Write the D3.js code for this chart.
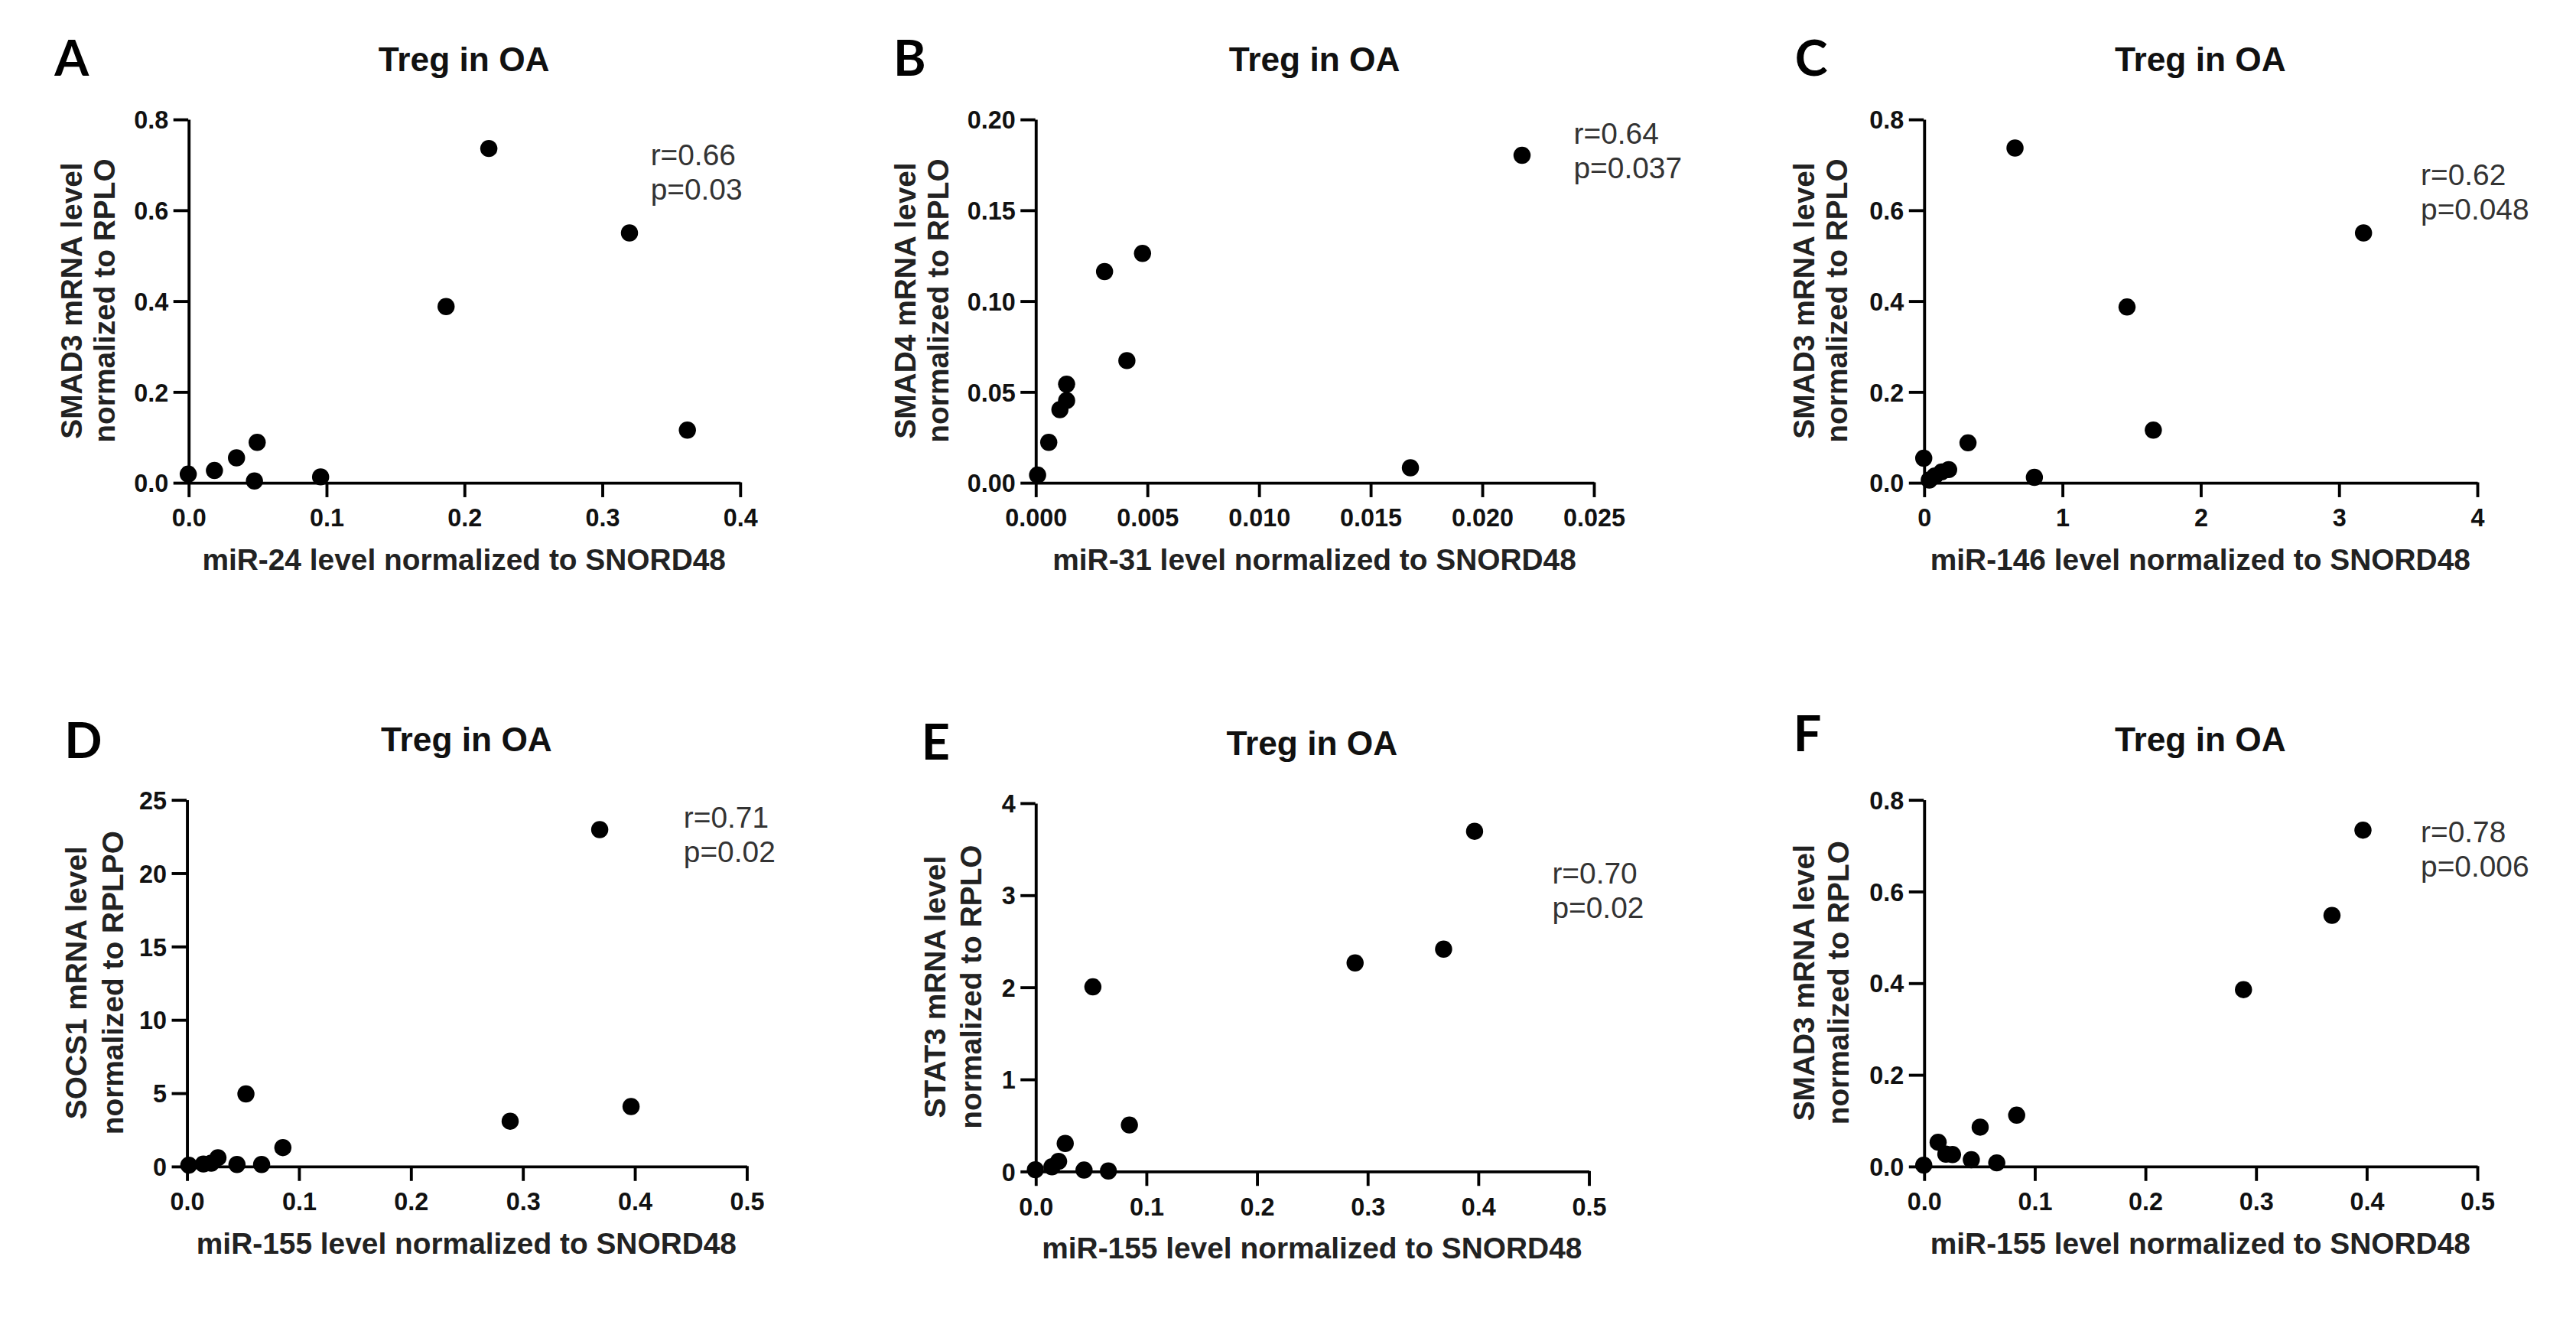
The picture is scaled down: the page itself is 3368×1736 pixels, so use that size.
<!DOCTYPE html>
<html>
<head>
<meta charset="utf-8">
<script src="https://cdn.jsdelivr.net/npm/d3@7/dist/d3.min.js"></script>
<style>
	html, body { margin: 0; padding: 0; background: #ffffff; }
	svg { display: block; }
</style>
</head>
<body>
<div id="chart"></div>
<script>

///////////////////////////////////////////////////////////////////////////
///////////////////////////////// Data ////////////////////////////////////
///////////////////////////////////////////////////////////////////////////

var panelLetters = ["A", "B", "C", "D", "E", "F"];
var panelTitle = "Treg in OA";

var xTitles = [
	"miR-24 level normalized to SNORD48",
	"miR-31 level normalized to SNORD48",
	"miR-146 level normalized to SNORD48",
	"miR-155 level normalized to SNORD48",
	"miR-155 level normalized to SNORD48",
	"miR-155 level normalized to SNORD48"
];
var yTitlesTop = ["SMAD3 mRNA level", "SMAD4 mRNA level", "SMAD3 mRNA level", "SOCS1 mRNA level", "STAT3 mRNA level", "SMAD3 mRNA level"];
var yTitlesBottom = ["normalized to RPLO", "normalized to RPLO", "normalized to RPLO", "normalized to RPLPO", "normalized to RPLO", "normalized to RPLO"];

var rLabels = ["r=0.66", "r=0.64", "r=0.62", "r=0.71", "r=0.70", "r=0.78"];
var pLabels = ["p=0.03", "p=0.037", "p=0.048", "p=0.02", "p=0.02", "p=0.006"];

//Axis ranges and tick labels
var xMax = [0.4, 0.025, 4, 0.5, 0.5, 0.5];
var yMax = [0.8, 0.20, 0.8, 25, 4, 0.8];
var xTicks = [
	[0, 0.1, 0.2, 0.3, 0.4],
	[0, 0.005, 0.010, 0.015, 0.020, 0.025],
	[0, 1, 2, 3, 4],
	[0, 0.1, 0.2, 0.3, 0.4, 0.5],
	[0, 0.1, 0.2, 0.3, 0.4, 0.5],
	[0, 0.1, 0.2, 0.3, 0.4, 0.5]
];
var yTicks = [
	[0, 0.2, 0.4, 0.6, 0.8],
	[0, 0.05, 0.10, 0.15, 0.20],
	[0, 0.2, 0.4, 0.6, 0.8],
	[0, 5, 10, 15, 20, 25],
	[0, 1, 2, 3, 4],
	[0, 0.2, 0.4, 0.6, 0.8]
];
var xFormats = [".1f", ".3f", "d", ".1f", ".1f", ".1f"];
var yFormats = [".1f", ".2f", ".1f", "d", "d", ".1f"];

//Points per panel
var xA = [0.000, 0.019, 0.035, 0.050, 0.048, 0.096, 0.187, 0.218, 0.320, 0.362];
var yA = [0.018, 0.026, 0.054, 0.088, 0.003, 0.012, 0.387, 0.735, 0.549, 0.115];

var xB = [0.0001, 0.0006, 0.0011, 0.0014, 0.0014, 0.0031, 0.0048, 0.0041, 0.0168, 0.0218];
var yB = [0.004, 0.022, 0.040, 0.054, 0.045, 0.116, 0.126, 0.067, 0.008, 0.180];

var xC = [0.00, 0.04, 0.08, 0.13, 0.18, 0.32, 0.66, 0.80, 1.47, 1.66, 3.18];
var yC = [0.053, 0.005, 0.014, 0.023, 0.028, 0.087, 0.736, 0.011, 0.386, 0.115, 0.549];

var xD = [0.002, 0.015, 0.022, 0.028, 0.045, 0.053, 0.067, 0.086, 0.289, 0.369, 0.397];
var yD = [0.06, 0.14, 0.20, 0.57, 0.11, 4.92, 0.11, 1.26, 3.06, 22.94, 4.06];

var xE = [0.000, 0.015, 0.021, 0.027, 0.044, 0.052, 0.066, 0.085, 0.289, 0.369, 0.397];
var yE = [0.014, 0.046, 0.105, 0.30, 0.01, 2.00, 0.00, 0.50, 2.26, 2.41, 3.69];

var xF = [0.000, 0.013, 0.020, 0.026, 0.043, 0.051, 0.066, 0.084, 0.289, 0.369, 0.397];
var yF = [0.002, 0.052, 0.026, 0.025, 0.014, 0.085, 0.007, 0.111, 0.385, 0.547, 0.733];

var xValues = [xA, xB, xC, xD, xE, xF];
var yValues = [yA, yB, yC, yD, yE, yF];

///////////////////////////////////////////////////////////////////////////
//////////////////////////////// Layout ///////////////////////////////////
///////////////////////////////////////////////////////////////////////////

//Everything is laid out on a 1560 x 804 grid and scaled up to the window
var viewW = 1560,
	viewH = 804;

//Plot area of each panel: left, right, bottom, top
var layout = [
	{ x0: 114,  x1: 448,  y0: 292, y1: 72,  letter: [33, 46],    note: [394, 100],  yt: [-71, -51] },
	{ x0: 627,  x1: 965,  y0: 292, y1: 72,  letter: [541, 46],   note: [953, 87],   yt: [-79, -59] },
	{ x0: 1165, x1: 1500, y0: 292, y1: 72,  letter: [1087, 46],  note: [1466, 112], yt: [-73, -53] },
	{ x0: 113,  x1: 452,  y0: 706, y1: 484, letter: [39, 459],   note: [414, 501],  yt: [-67, -45] },
	{ x0: 627,  x1: 962,  y0: 709, y1: 486, letter: [558, 460],  note: [940, 535],  yt: [-61, -39] },
	{ x0: 1165, x1: 1500, y0: 706, y1: 484, letter: [1086, 455], note: [1466, 510], yt: [-73, -52] }
];

var fontFamily = "'Liberation Sans', Arial, sans-serif";

var svg = d3.select("#chart")
	.append("svg")
	.attr("width", 3368)
	.attr("height", 1736)
	.attr("viewBox", "0 0 " + viewW + " " + viewH);

svg.append("rect")
	.attr("width", viewW)
	.attr("height", viewH)
	.style("fill", "#ffffff");

///////////////////////////////////////////////////////////////////////////
///////////////////////////// Draw the panels /////////////////////////////
///////////////////////////////////////////////////////////////////////////

panelLetters.forEach(function(letter, i) {
	var L = layout[i];

	var x = d3.scaleLinear().domain([0, xMax[i]]).range([L.x0, L.x1]);
	var y = d3.scaleLinear().domain([0, yMax[i]]).range([L.y0, L.y1]);

	var g = svg.append("g").attr("class", "panel panel-" + letter);

	//Panel letter
	g.append("text")
		.attr("x", L.letter[0])
		.attr("y", L.letter[1])
		.style("font-family", "Lato, 'Open Sans', sans-serif")
		.style("font-weight", 700)
		.style("font-size", "30px")
		.style("fill", "#000")
		.text(letter);

	//Title
	g.append("text")
		.attr("x", (L.x0 + L.x1) / 2)
		.attr("y", L.y1 - 29)
		.attr("text-anchor", "middle")
		.style("font-family", fontFamily)
		.style("font-weight", 700)
		.style("font-size", "20.5px")
		.style("fill", "#111")
		.text(panelTitle);

	//X axis
	var xAxis = g.append("g")
		.attr("transform", "translate(0," + L.y0 + ")")
		.call(d3.axisBottom(x)
			.tickValues(xTicks[i])
			.tickFormat(d3.format(xFormats[i]))
			.tickSize(9)
			.tickPadding(4)
			.tickSizeOuter(0));

	//Y axis
	var yAxis = g.append("g")
		.attr("transform", "translate(" + L.x0 + ",0)")
		.call(d3.axisLeft(y)
			.tickValues(yTicks[i])
			.tickFormat(d3.format(yFormats[i]))
			.tickSize(9)
			.tickPadding(3)
			.tickSizeOuter(0));

	[xAxis, yAxis].forEach(function(ax) {
		ax.select(".domain").style("stroke", "#000").style("stroke-width", 1.8);
		ax.selectAll(".tick line").style("stroke", "#000").style("stroke-width", 1.8);
		ax.selectAll(".tick text")
			.style("font-family", fontFamily)
			.style("font-weight", 700)
			.style("font-size", "15px")
			.style("fill", "#111");
	});
	xAxis.selectAll(".tick text").attr("dy", "0.92em");
	yAxis.selectAll(".tick text").attr("dy", "0.36em");

	//X axis title
	g.append("text")
		.attr("x", (L.x0 + L.x1) / 2)
		.attr("y", L.y0 + 53)
		.attr("text-anchor", "middle")
		.style("font-family", fontFamily)
		.style("font-weight", 700)
		.style("font-size", "18px")
		.style("fill", "#222")
		.text(xTitles[i]);

	//Y axis title, two lines
	var yMid = (L.y0 + L.y1) / 2;
	[yTitlesTop[i], yTitlesBottom[i]].forEach(function(t, j) {
		g.append("text")
			.attr("transform", "translate(" + (L.x0 + L.yt[j]) + "," + yMid + ") rotate(-90)")
			.attr("text-anchor", "middle")
			.attr("dy", "0.36em")
			.style("font-family", fontFamily)
			.style("font-weight", 700)
			.style("font-size", "18px")
			.style("fill", "#222")
			.text(t);
	});

	//r and p values
	[rLabels[i], pLabels[i]].forEach(function(t, j) {
		g.append("text")
			.attr("x", L.note[0])
			.attr("y", L.note[1] + j * 21)
			.style("font-family", fontFamily)
			.style("font-size", "18px")
			.style("fill", "#333")
			.text(t);
	});

	//Points
	var pts = xValues[i].map(function(v, k) { return { x: v, y: yValues[i][k] }; });
	g.selectAll(".dot")
		.data(pts)
		.enter().append("circle")
		.attr("class", "dot")
		.attr("cx", function(d) { return x(d.x); })
		.attr("cy", function(d) { return y(d.y); })
		.attr("r", 5.2)
		.style("fill", "#000");
});

</script>
</body>
</html>
